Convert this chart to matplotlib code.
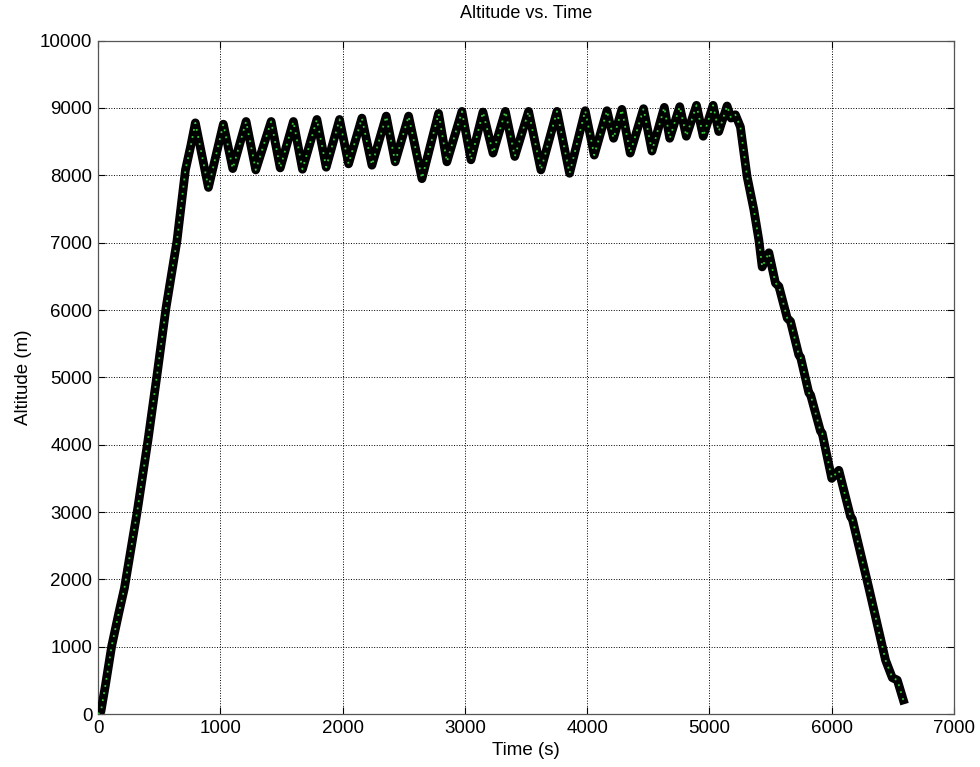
import matplotlib
matplotlib.use("Agg")
import matplotlib.pyplot as plt

plt.rcParams['font.family'] = ['Liberation Sans', 'DejaVu Sans']

# flight profile (time in s, altitude in m)
time_s = [0, 24, 60, 112, 170, 216, 320, 409, 483, 556, 646, 715, 760, 796,
          903, 1025, 1102, 1211, 1290, 1416, 1490, 1598, 1672,
          1790, 1866, 1975, 2049, 2158, 2240, 2357, 2430, 2540, 2649,
          2785, 2853, 2976, 3050, 3148, 3230, 3331, 3408,
          3521, 3622, 3753, 3856, 3984, 4058, 4162, 4216, 4284, 4352,
          4461, 4530, 4631, 4675, 4757, 4811, 4894, 4949, 5030, 5076,
          5144, 5177, 5212, 5253, 5308, 5363, 5404, 5431, 5486, 5540,
          5568, 5636, 5663, 5731, 5745, 5813, 5827, 5908, 5922, 6000,
          6058, 6154, 6168, 6300, 6440, 6495, 6536, 6585]
alt_m = [0, 40, 420, 1010, 1500, 1870, 3000, 4070, 5040, 6030, 7030, 8080, 8450, 8780,
         7820, 8760, 8100, 8800, 8080, 8800, 8110, 8800, 8090,
         8830, 8120, 8830, 8170, 8850, 8150, 8880, 8200, 8880, 7950,
         8920, 8200, 8950, 8230, 8940, 8330, 8950, 8280,
         8950, 8080, 8950, 8030, 8960, 8300, 8960, 8550, 8980, 8330,
         8990, 8360, 9010, 8550, 9020, 8580, 9040, 8580, 9040, 8650,
         9030, 8850, 8900, 8720, 7980, 7490, 7040, 6640, 6850, 6400,
         6350, 5880, 5830, 5330, 5300, 4770, 4740, 4200, 4170, 3500,
         3620, 2930, 2900, 1900, 800, 540, 505, 210]

xticks = [0, 1000, 2000, 3000, 4000, 5000, 6000, 7000]
yticks = [0, 1000, 2000, 3000, 4000, 5000, 6000, 7000, 8000, 9000, 10000]

fig = plt.figure(figsize=(9.8, 7.67), dpi=100)
ax = fig.add_axes([0.1, 0.069, 0.8735, 0.878])

ax.plot(time_s, alt_m, color='black', lw=6.3, solid_joinstyle='round',
        solid_capstyle='projecting', zorder=3)
ax.plot(time_s, alt_m, color='#3cc83c', lw=1.3, ls=(0, (1, 3)), zorder=4)

ax.set_xlim(0, 7000)
ax.set_ylim(0, 10000)
ax.set_xticks(xticks)
ax.set_yticks(yticks)
ax.tick_params(direction='in', top=True, right=True, labelsize=13.5,
               length=5, width=0.8, pad=4)
ax.grid(True, color='black', ls=':', lw=0.7)
for s in ax.spines.values():
    s.set_color('#555555')
    s.set_linewidth(0.9)

ax.set_title('Altitude vs. Time', fontsize=13, pad=16)
ax.set_xlabel('Time (s)', fontsize=13.5, labelpad=4)
ax.set_ylabel('Altitude (m)', fontsize=13.5, labelpad=6)

fig.savefig('out.png', dpi=100)
